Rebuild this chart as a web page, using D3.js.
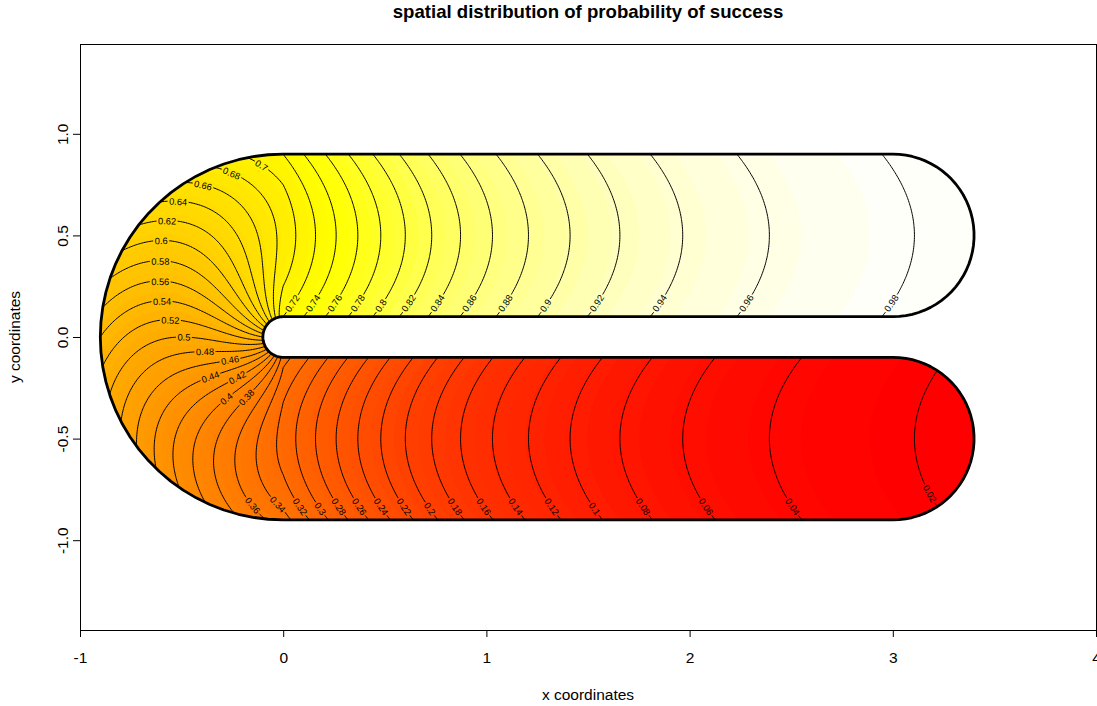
<!DOCTYPE html>
<html>
<head>
<meta charset="utf-8">
<title>spatial distribution of probability of success</title>
<script src="https://cdn.jsdelivr.net/npm/d3@7"></script>
<style>
  html, body { margin: 0; padding: 0; background: #ffffff; }
  svg { display: block; }
  text { font-family: "Liberation Sans", Arial, Helvetica, sans-serif; fill: #000; }
</style>
</head>
<body>
<svg id="chart" width="1097" height="706"></svg>
<script>
// ---- horseshoe domain: inner radius, centre-line radius, arm length ----
const innerRadius = 0.1;
const centreRadius = 0.5;
const armLength = 3;
const boundaryArcPoints = 20;

// success probability = logistic(slope * distance along centre line + offset^2)
const alongSlope = 1;

// contour levels that are drawn and labelled
const contourLevels = [0.02, 0.04, 0.06, 0.08, 0.1, 0.12, 0.14, 0.16, 0.18, 0.2,
  0.22, 0.24, 0.26, 0.28, 0.3, 0.32, 0.34, 0.36, 0.38, 0.4,
  0.42, 0.44, 0.46, 0.48, 0.5, 0.52, 0.54, 0.56, 0.58, 0.6,
  0.62, 0.64, 0.66, 0.68, 0.7, 0.72, 0.74, 0.76, 0.78, 0.8,
  0.82, 0.84, 0.86, 0.88, 0.9, 0.92, 0.94, 0.96, 0.98];
const colourCount = 100;

const xTicks = [-1, 0, 1, 2, 3, 4];
const xTickLabels = ["-1", "0", "1", "2", "3", "4"];
const yTicks = [-1, -0.5, 0, 0.5, 1];
const yTickLabels = ["-1.0", "-0.5", "0.0", "0.5", "1.0"];

const titleText = "spatial distribution of probability of success";
const xTitle = "x coordinates";
const yTitle = "y coordinates";

// ---- layout ----
const W = 1097, H = 706;
const frame = { left: 80, right: 1096, top: 44, bottom: 630 };
const baseFont = 15.5;
const labelFont = baseFont * 0.6;

const xScale = d3.scaleLinear().domain([-1, 4]).range([frame.left, frame.right]);
const unitPx = (frame.right - frame.left) / 5;
const yHalf = (frame.bottom - frame.top) / 2 / unitPx;      // equal aspect
const yScale = d3.scaleLinear().domain([-yHalf, yHalf]).range([frame.bottom, frame.top]);

const svg = d3.select("#chart");

// ---- horseshoe coordinates: distance along centre line (a) and offset from it (d) ----
function centreCoords(px, py) {
  const q = Math.PI * centreRadius / 2;
  if (px >= 0 && py > 0) return [q + px, py - centreRadius];
  if (px >= 0) return [-q - px, -centreRadius - py];
  return [-Math.atan(py / px) * centreRadius, Math.hypot(px, py) - centreRadius];
}
function successProb(px, py) {
  const [a, d] = centreCoords(px, py);
  return 1 / (1 + Math.exp(-(alongSlope * a + d * d)));
}
function inDomain(px, py, margin) {
  const d = centreCoords(px, py)[1];
  const w = centreRadius - innerRadius - margin;
  if (Math.abs(d) > w) return false;
  if (px > armLength && (px - armLength) ** 2 + d * d > w * w) return false;
  return true;
}

// boundary polygon (outer arc, right end cap, inner arc, mirrored)
function boundaryPolygon() {
  const rr = centreRadius + (centreRadius - innerRadius);
  const cap = centreRadius - innerRadius;
  const n = boundaryArcPoints;
  const pts = [];
  for (let i = 0; i < n; i++) {
    const t = Math.PI - (Math.PI / 2) * i / (n - 1);
    pts.push([rr * Math.cos(t), rr * Math.sin(t)]);
  }
  for (let i = 0; i < 2 * n; i++) {
    const t = Math.PI / 2 - Math.PI * i / (2 * n - 1);
    pts.push([cap * Math.cos(t) + armLength, cap * Math.sin(t) + centreRadius]);
  }
  for (let i = 0; i < n; i++) {
    const t = Math.PI / 2 + (Math.PI / 2) * i / (n - 1);
    pts.push([innerRadius * Math.cos(t), innerRadius * Math.sin(t)]);
  }
  const m = pts.length;
  for (let i = m - 1; i >= 0; i--) pts.push([pts[i][0], -pts[i][1]]);
  return pts;
}
const boundary = boundaryPolygon();
const boundaryPath = "M" + boundary.map(p => xScale(p[0]).toFixed(2) + "," + yScale(p[1]).toFixed(2)).join("L") + "Z";

// ---- evaluation grid ----
const step = 0.008;
const gx0 = -0.96, gx1 = 3.44, gy0 = -0.96, gy1 = 0.96;
const nx = Math.round((gx1 - gx0) / step) + 1;
const ny = Math.round((gy1 - gy0) / step) + 1;
const values = new Float64Array(nx * ny);
let zMin = Infinity, zMax = -Infinity;
for (let j = 0; j < ny; j++) {
  const py = gy0 + j * step;
  for (let i = 0; i < nx; i++) {
    const px = gx0 + i * step;
    const v = successProb(px, py);
    values[j * nx + i] = v;
    if (inDomain(px, py, 0)) { if (v < zMin) zMin = v; if (v > zMax) zMax = v; }
  }
}
const gridToData = p => [gx0 + (p[0] - 0.5) * step, gy0 + (p[1] - 0.5) * step];
const gridToPx = p => { const d = gridToData(p); return [xScale(d[0]), yScale(d[1])]; };

// ---- heat palette (red -> yellow -> near white) ----
function hsvHex(h, s, v) {
  const i = Math.floor(h * 6), f = h * 6 - i;
  const p = v * (1 - s), q = v * (1 - f * s), t = v * (1 - (1 - f) * s);
  let r, g, b;
  switch (i % 6) {
    case 0: r = v; g = t; b = p; break;
    case 1: r = q; g = v; b = p; break;
    case 2: r = p; g = v; b = t; break;
    case 3: r = p; g = q; b = v; break;
    case 4: r = t; g = p; b = v; break;
    default: r = v; g = p; b = q;
  }
  return d3.rgb(Math.round(r * 255), Math.round(g * 255), Math.round(b * 255)).formatHex();
}
function heatColours(n) {
  const j = Math.floor(n / 4), i = n - j;
  const out = [];
  for (let k = 0; k < i; k++) out.push(hsvHex((i > 1 ? k / (i - 1) : 0) / 6, 1, 1));
  const s0 = 1 - 1 / (2 * j), s1 = 1 / (2 * j);
  for (let k = 0; k < j; k++) out.push(hsvHex(1 / 6, j > 1 ? s0 + (s1 - s0) * k / (j - 1) : s0, 1));
  return out;
}
const palette = heatColours(colourCount);
const colourBreaks = d3.range(1, colourCount).map(k => zMin + k * (zMax - zMin) / colourCount);

// ---- defs: clip to the horseshoe ----
const defs = svg.append("defs");
defs.append("clipPath").attr("id", "domainClip").append("path").attr("d", boundaryPath);

function multiPolygonPath(mp) {
  let s = "";
  for (const poly of mp.coordinates) {
    for (const ring of poly) {
      s += "M" + ring.map(p => { const q = gridToPx(p); return q[0].toFixed(2) + "," + q[1].toFixed(2); }).join("L") + "Z";
    }
  }
  return s;
}

// ---- filled surface ----
const fillG = svg.append("g").attr("clip-path", "url(#domainClip)");
fillG.append("path").attr("d", boundaryPath).attr("fill", palette[0]);
const bands = d3.contours().size([nx, ny]).thresholds(colourBreaks)(values);
bands.forEach((b, k) => {
  fillG.append("path").attr("d", multiPolygonPath(b)).attr("fill", palette[k + 1]).attr("stroke", "none");
});

// ---- contour lines split into pieces inside the domain ----
const lineSets = d3.contours().size([nx, ny]).thresholds(contourLevels)(values);

function measure(pts) {
  const cum = [0];
  for (let k = 1; k < pts.length; k++) {
    cum.push(cum[k - 1] + Math.hypot(pts[k][0] - pts[k - 1][0], pts[k][1] - pts[k - 1][1]));
  }
  return cum;
}
function pointAt(pts, cum, s) {
  if (s <= 0) return pts[0];
  const L = cum[cum.length - 1];
  if (s >= L) return pts[pts.length - 1];
  let lo = 0, hi = cum.length - 1;
  while (hi - lo > 1) { const mid = (lo + hi) >> 1; if (cum[mid] <= s) lo = mid; else hi = mid; }
  const seg = cum[hi] - cum[lo];
  const t = seg > 0 ? (s - cum[lo]) / seg : 0;
  return [pts[lo][0] + t * (pts[hi][0] - pts[lo][0]), pts[lo][1] + t * (pts[hi][1] - pts[lo][1])];
}
function slicePts(pts, cum, a, b) {
  const out = [pointAt(pts, cum, a)];
  for (let k = 0; k < pts.length; k++) if (cum[k] > a && cum[k] < b) out.push(pts[k]);
  out.push(pointAt(pts, cum, b));
  return out;
}
function runsOf(ring) {
  const info = ring.map(p => { const d = gridToData(p); return { p, inside: inDomain(d[0], d[1], -0.012) }; });
  const start = info.findIndex(o => !o.inside);
  if (start < 0) return [info.map(o => gridToPx(o.p))];
  const runs = [];
  let cur = [];
  for (let k = 1; k <= info.length; k++) {
    const o = info[(start + k) % info.length];
    if (o.inside) cur.push(gridToPx(o.p));
    else { if (cur.length > 1) runs.push(cur); cur = []; }
  }
  if (cur.length > 1) runs.push(cur);
  return runs;
}

// label size measurement
const probe = svg.append("text").attr("font-size", labelFont).attr("visibility", "hidden");
function textWidth(s) { probe.text(s); return probe.node().getComputedTextLength(); }

function corners(r) {
  const c = Math.cos(r.a), s = Math.sin(r.a);
  return [[-1, -1], [1, -1], [1, 1], [-1, 1]].map(([u, v]) =>
    [r.x + c * u * r.hw - s * v * r.hh, r.y + s * u * r.hw + c * v * r.hh]);
}
function overlaps(r1, r2) {
  const c1 = corners(r1), c2 = corners(r2);
  for (const ang of [r1.a, r1.a + Math.PI / 2, r2.a, r2.a + Math.PI / 2]) {
    const ax = Math.cos(ang), ay = Math.sin(ang);
    const p1 = c1.map(c => c[0] * ax + c[1] * ay), p2 = c2.map(c => c[0] * ax + c[1] * ay);
    if (Math.max(...p1) < Math.min(...p2) || Math.max(...p2) < Math.min(...p1)) return false;
  }
  return true;
}

// a label window end must sit inside the domain and clear of the tight inner bend
const bendClearance = 0.1;
function labelSpotOk(p) {
  const dx = xScale.invert(p[0]), dy = yScale.invert(p[1]);
  if (!inDomain(dx, dy, 0.02)) return false;
  if (dx < 0 && Math.hypot(dx, dy) < innerRadius + bendClearance) return false;
  return true;
}

// flatness of a window: mean squared gradient dy/dx of its segments (most level part wins)
function gradientScore(pts, cum, s, e) {
  const seq = slicePts(pts, cum, s, e);
  let sum = 0, n = 0;
  for (let k = 1; k < seq.length; k++) {
    const dx = seq[k][0] - seq[k - 1][0], dy = seq[k][1] - seq[k - 1][1];
    if (Math.hypot(dx, dy) < 0.3) continue;
    const g = Math.min(Math.abs(dy) / Math.max(Math.abs(dx), 1e-3), 1e3);
    sum += g * g; n++;
  }
  return n ? sum / n : Infinity;
}

const placed = [];
const lineRuns = [];
lineSets.forEach((set, li) => {
  const text = String(contourLevels[li]);
  const tw = textWidth(text);
  const win = tw + 3;
  const rings = [];
  for (const poly of set.coordinates) for (const ring of poly) rings.push(ring);
  rings.forEach(ring => {
    runsOf(ring).forEach(pts => {
      const cum = measure(pts);
      const L = cum[cum.length - 1];
      const run = { pts, cum, gaps: [] };
      lineRuns.push(run);
      if (L < win + 2) return;
      const cands = [];
      for (let s = 0; s + win <= L; s += 1) {
        const p0 = pointAt(pts, cum, s), p1 = pointAt(pts, cum, s + win);
        const pm = [(p0[0] + p1[0]) / 2, (p0[1] + p1[1]) / 2];
        if (!labelSpotOk(p0) || !labelSpotOk(p1) || !labelSpotOk(pointAt(pts, cum, s + win / 2))) continue;
        const v = gradientScore(pts, cum, s, s + win);
        const cx = p1[0] - p0[0], cy = p1[1] - p0[1];
        cands.push({ s, score: v * (1 + 0.3 * (H - pm[1]) / H), x: pm[0], y: pm[1], a: Math.atan2(cy, cx) });
      }
      cands.sort((u, v) => u.score - v.score);
      for (const c of cands) {
        let a = c.a;
        if (a > Math.PI / 2) a -= Math.PI;
        if (a < -Math.PI / 2) a += Math.PI;
        const rect = { x: c.x, y: c.y, a, hw: win / 2 + 1, hh: labelFont * 0.68 };
        if (placed.some(r => overlaps(r, rect))) continue;
        placed.push(Object.assign(rect, { text }));
        run.gaps.push([c.s, c.s + win]);
        break;
      }
    });
  });
});
probe.remove();

const lineG = svg.append("g").attr("clip-path", "url(#domainClip)")
  .attr("fill", "none").attr("stroke", "#000").attr("stroke-width", 1);
const lineGen = d3.line();
lineRuns.forEach(run => {
  const L = run.cum[run.cum.length - 1];
  const gaps = run.gaps.slice().sort((u, v) => u[0] - v[0]);
  let from = 0;
  const pieces = [];
  gaps.forEach(g => { if (g[0] > from) pieces.push([from, g[0]]); from = g[1]; });
  if (from < L) pieces.push([from, L]);
  pieces.forEach(([a, b]) => {
    lineG.append("path").attr("d", lineGen(slicePts(run.pts, run.cum, a, b)));
  });
});

// contour labels
svg.append("g").selectAll("text").data(placed).join("text")
  .attr("transform", d => `translate(${d.x.toFixed(2)},${d.y.toFixed(2)}) rotate(${(d.a * 180 / Math.PI).toFixed(2)})`)
  .attr("text-anchor", "middle").attr("dy", "0.35em")
  .attr("font-size", labelFont).text(d => d.text);

// horseshoe boundary
svg.append("path").attr("d", boundaryPath).attr("fill", "none")
  .attr("stroke", "#000").attr("stroke-width", 2.8).attr("stroke-linejoin", "round");

// ---- frame and axes ----
svg.append("rect").attr("x", frame.left + 0.5).attr("y", frame.top + 0.5)
  .attr("width", frame.right - frame.left).attr("height", frame.bottom - frame.top)
  .attr("fill", "none").attr("stroke", "#000").attr("stroke-width", 1);

const gxAxis = svg.append("g").attr("transform", `translate(0,${frame.bottom})`)
  .call(d3.axisBottom(xScale).tickValues(xTicks).tickFormat((d, i) => xTickLabels[i])
    .tickSizeInner(7).tickSizeOuter(0).tickPadding(15));
gxAxis.attr("font-size", baseFont).attr("font-family", null);
gxAxis.selectAll("text").attr("fill", "#000");
gxAxis.selectAll("line, path").attr("stroke", "#000");

const gyAxis = svg.append("g").attr("transform", `translate(${frame.left},0)`)
  .call(d3.axisLeft(yScale).tickValues(yTicks).tickFormat((d, i) => yTickLabels[i])
    .tickSizeInner(7).tickSizeOuter(0));
gyAxis.attr("font-size", baseFont).attr("font-family", null);
gyAxis.selectAll("line, path").attr("stroke", "#000");
gyAxis.selectAll("text").attr("fill", "#000")
  .attr("transform", "rotate(-90)").attr("x", 0).attr("y", -12.5).attr("dy", 0)
  .attr("text-anchor", "middle");

// ---- titles ----
const midX = (frame.left + frame.right) / 2;
svg.append("text").attr("x", midX).attr("y", 17.5).attr("text-anchor", "middle")
  .attr("font-size", baseFont * 1.2).attr("font-weight", "bold").text(titleText);
svg.append("text").attr("x", midX).attr("y", 700).attr("text-anchor", "middle")
  .attr("font-size", baseFont).text(xTitle);
svg.append("text").attr("transform", `translate(20,${(frame.top + frame.bottom) / 2}) rotate(-90)`)
  .attr("text-anchor", "middle").attr("font-size", baseFont).text(yTitle);
</script>
</body>
</html>
